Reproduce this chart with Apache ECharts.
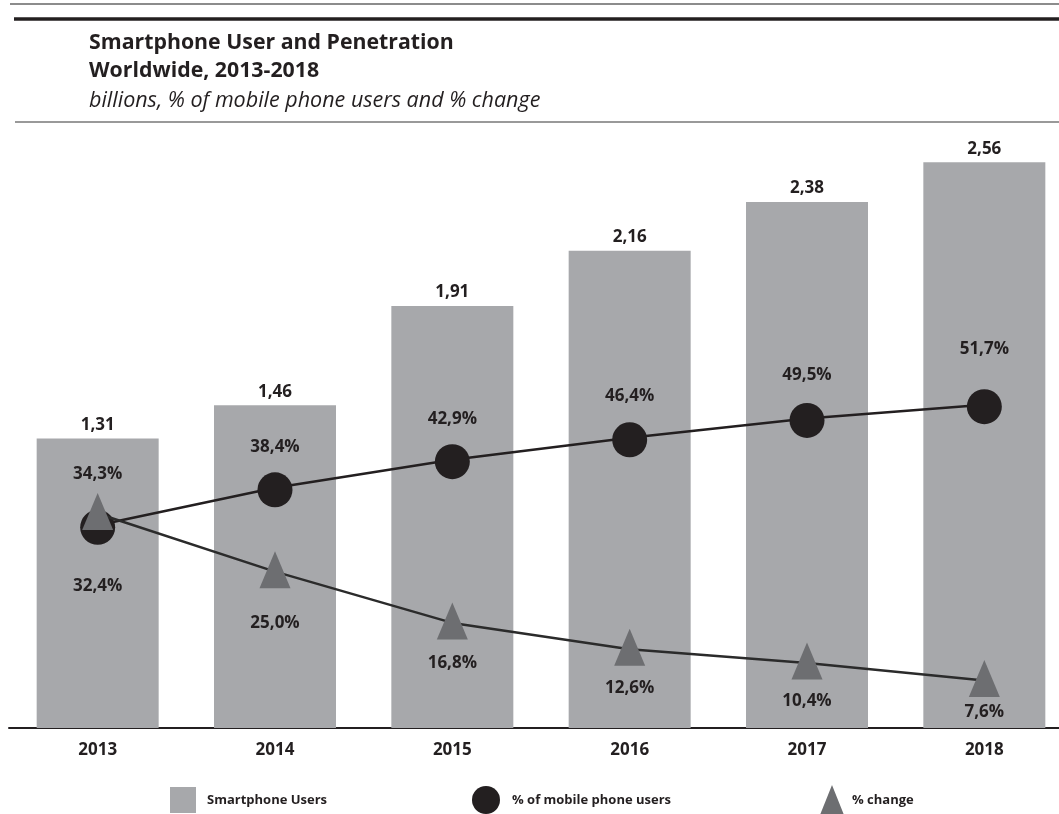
<!DOCTYPE html>
<html>
<head>
<meta charset="utf-8">
<script src="https://cdn.jsdelivr.net/npm/echarts@6/dist/echarts.min.js"></script>
<style>
  html, body { margin: 0; padding: 0; background: #fff; }
  #chart { width: 1059px; height: 814px; }
</style>
</head>
<body>
<div id="chart"></div>
<script>
// data
var years = ['2013', '2014', '2015', '2016', '2017', '2018'];
var smartphoneUsers = [1.31, 1.46, 1.91, 2.16, 2.38, 2.56];      // billions
var mobileShare = [32.4, 38.4, 42.9, 46.4, 49.5, 51.7];          // % of mobile phone users
var pctChange = [34.3, 25.0, 16.8, 12.6, 10.4, 7.6];             // % change

// label placement (px from the marker centre), layout only
var shareLabelDy = [59, -43, -43, -44, -45, -57];
var changeLabelDy = [-37, 54, 42, 41, 40, 34];

var DARK = '#231f20';
var FONT = '"Open Sans", "DejaVu Sans", sans-serif';

function comma(v, d) {
	return v.toFixed(d).replace('.', ',');
}

function withLabels(values, dys) {
	return values.map(function (v, i) {
		return {
			value: v,
			label: { offset: [0, dys[i]] }
		};
	});
}

var chart = echarts.init(document.getElementById('chart'));

var option = {
	backgroundColor: '#ffffff',
	animation: false,
	textStyle: { fontFamily: FONT },
	title: {
		text: 'Smartphone User and Penetration\nWorldwide, 2013-2018',
		subtext: 'billions, % of mobile phone users and % change',
		left: 89,
		top: 29,
		itemGap: 4,
		padding: 0,
		textStyle: {
			fontFamily: FONT,
			fontSize: 21.3,
			fontWeight: 'bold',
			lineHeight: 28,
			color: DARK
		},
		subtextStyle: {
			fontFamily: FONT,
			fontSize: 21.5,
			fontStyle: 'italic',
			lineHeight: 24,
			color: DARK
		}
	},
	graphic: [
		{ type: 'line', shape: { x1: 10, y1: 4, x2: 1059, y2: 4 }, style: { stroke: '#666', lineWidth: 1.5 } },
		{ type: 'line', shape: { x1: 14, y1: 19, x2: 1059, y2: 19 }, style: { stroke: DARK, lineWidth: 3.5 } },
		{ type: 'line', shape: { x1: 15, y1: 122, x2: 1059, y2: 122 }, style: { stroke: '#777', lineWidth: 1.5 } }
	],
	legend: [
		{
			data: [{ name: 'Smartphone Users', icon: 'rect' }],
			left: 170, top: 787, padding: 0,
			itemWidth: 26, itemHeight: 26,
			textStyle: { fontFamily: FONT, fontSize: 13, fontWeight: 'bold', color: DARK, padding: [0, 0, 0, 6] }
		},
		{
			data: [{ name: '% of mobile phone users', icon: 'circle' }],
			left: 472, top: 786, padding: 0,
			itemWidth: 28, itemHeight: 28,
			textStyle: { fontFamily: FONT, fontSize: 13, fontWeight: 'bold', color: DARK, padding: [0, 0, 0, 7] }
		},
		{
			data: [{ name: '% change', icon: 'triangle' }],
			left: 820, top: 785, padding: 0,
			itemWidth: 24, itemHeight: 30,
			textStyle: { fontFamily: FONT, fontSize: 13, fontWeight: 'bold', color: DARK, padding: [0, 0, 0, 3] }
		}
	],
	grid: {
		left: 9,
		width: 1064,
		top: 65,
		bottom: 86,
		containLabel: false,
		outerBoundsMode: 'none'
	},
	xAxis: {
		type: 'category',
		data: years,
		axisLine: { lineStyle: { color: DARK, width: 2 } },
		axisTick: { show: false },
		axisLabel: {
			margin: 14,
			fontFamily: FONT,
			fontSize: 17,
			fontWeight: 'bold',
			color: DARK
		}
	},
	yAxis: [
		{
			type: 'value',
			min: 0,
			max: 3,
			show: false
		},
		{
			type: 'value',
			min: 0,
			max: 106,
			show: false
		}
	],
	series: [
		{
			name: 'Smartphone Users',
			type: 'bar',
			data: smartphoneUsers,
			barWidth: 122,
			itemStyle: { color: '#a7a8ab' },
			label: {
				show: true,
				position: 'top',
				distance: 5,
				fontFamily: FONT,
				fontSize: 17,
				fontWeight: 'bold',
				color: DARK,
				formatter: function (p) { return comma(p.value, 2); }
			}
		},
		{
			name: '% of mobile phone users',
			type: 'line',
			yAxisIndex: 1,
			data: withLabels(mobileShare, shareLabelDy),
			symbol: 'circle',
			symbolSize: 35,
			symbolOffset: [0, 2],
			lineStyle: { color: DARK, width: 2.5 },
			itemStyle: { color: DARK },
			label: {
				show: true,
				position: 'inside',
				fontFamily: FONT,
				fontSize: 17,
				fontWeight: 'bold',
				color: DARK,
				formatter: function (p) { return comma(p.value, 1) + '%'; }
			},
			z: 3
		},
		{
			name: '% change',
			type: 'line',
			yAxisIndex: 1,
			data: withLabels(pctChange, changeLabelDy),
			symbol: 'triangle',
			symbolSize: [31, 37],
			symbolOffset: [0, -2],
			lineStyle: { color: '#2b2b2b', width: 2.5 },
			itemStyle: { color: '#6d6e71' },
			label: {
				show: true,
				position: 'inside',
				fontFamily: FONT,
				fontSize: 17,
				fontWeight: 'bold',
				color: DARK,
				formatter: function (p) { return comma(p.value, 1) + '%'; }
			},
			z: 4
		}
	]
};

chart.setOption(option);
</script>
</body>
</html>
